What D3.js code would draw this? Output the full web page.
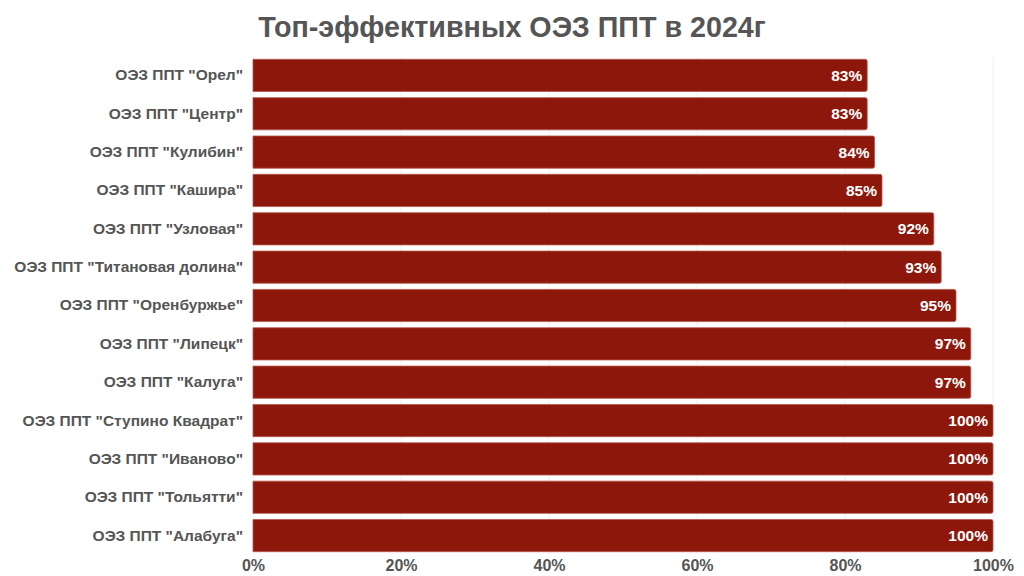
<!DOCTYPE html>
<html>
<head>
<meta charset="utf-8">
<script src="https://cdn.jsdelivr.net/npm/d3@7"></script>
<style>
  body { margin: 0; background: #fff; }
  svg { font-family: "Liberation Sans", Arial, sans-serif; }
</style>
</head>
<body>
<div id="chart"></div>
<script>
const zones = [
  'ОЭЗ ППТ "Орел"', 'ОЭЗ ППТ "Центр"', 'ОЭЗ ППТ "Кулибин"', 'ОЭЗ ППТ "Кашира"',
  'ОЭЗ ППТ "Узловая"', 'ОЭЗ ППТ "Титановая долина"', 'ОЭЗ ППТ "Оренбуржье"',
  'ОЭЗ ППТ "Липецк"', 'ОЭЗ ППТ "Калуга"', 'ОЭЗ ППТ "Ступино Квадрат"',
  'ОЭЗ ППТ "Иваново"', 'ОЭЗ ППТ "Тольятти"', 'ОЭЗ ППТ "Алабуга"'
];
const efficiency = [83, 83, 84, 85, 92, 93, 95, 97, 97, 100, 100, 100, 100];
const xTicks = [0, 20, 40, 60, 80, 100];

const width = 1024, height = 576;
const margin = { top: 57, right: 31, bottom: 22, left: 253 };
const data = zones.map((z, i) => ({ zone: z, value: efficiency[i] }));

const svg = d3.select('#chart').append('svg')
  .attr('width', width)
  .attr('height', height);

const x = d3.scaleLinear().domain([0, 100]).range([margin.left, width - margin.right]);
const y = d3.scaleBand().domain(zones).range([margin.top, height - margin.bottom]).paddingInner(0.16).paddingOuter(0.06);

// title
svg.append('text')
  .attr('x', width / 2)
  .attr('y', 37)
  .attr('text-anchor', 'middle')
  .attr('font-size', 28.7)
  .attr('font-weight', 'bold')
  .attr('fill', '#555')
  .text('Топ-эффективных ОЭЗ ППТ в 2024г');

// faint gridlines
svg.append('g')
  .selectAll('line')
  .data(xTicks)
  .join('line')
  .attr('x1', d => x(d)).attr('x2', d => x(d))
  .attr('y1', margin.top).attr('y2', height - margin.bottom)
  .attr('stroke', '#f0f0f0');

// bars
svg.append('g')
  .selectAll('path')
  .data(data)
  .join('path')
  .attr('d', d => {
    const x0 = x(0), x1 = x(d.value), y0 = y(d.zone), h = y.bandwidth(), r = 2;
    return `M${x0},${y0}H${x1 - r}Q${x1},${y0} ${x1},${y0 + r}V${y0 + h - r}Q${x1},${y0 + h} ${x1 - r},${y0 + h}H${x0}Z`;
  })
  .attr('fill', '#8e170b')
  .attr('stroke', '#b4574f')
  .attr('stroke-width', 0.8);

// value labels
svg.append('g')
  .selectAll('text')
  .data(data)
  .join('text')
  .attr('x', d => x(d.value) - 5)
  .attr('y', d => y(d.zone) + y.bandwidth() / 2)
  .attr('dy', '0.36em')
  .attr('text-anchor', 'end')
  .attr('font-size', 15.5)
  .attr('font-weight', 'bold')
  .attr('fill', '#fff')
  .text(d => d.value + '%');

// category axis
const yAxis = svg.append('g')
  .attr('transform', `translate(${margin.left},0)`)
  .call(d3.axisLeft(y).tickSize(0).tickPadding(10));
yAxis.select('.domain').remove();
yAxis.selectAll('text')
  .attr('font-size', 15.5)
  .attr('font-weight', 'bold')
  .attr('fill', '#555')
  .attr('font-family', '"Liberation Sans", Arial, sans-serif');

// value axis
const xAxis = svg.append('g')
  .attr('transform', `translate(0,${height - margin.bottom})`)
  .call(d3.axisBottom(x).tickValues(xTicks).tickFormat(d => d + '%').tickSize(0).tickPadding(6));
xAxis.select('.domain').remove();
xAxis.selectAll('text')
  .attr('font-size', 16)
  .attr('font-weight', 'bold')
  .attr('fill', '#555')
  .attr('font-family', '"Liberation Sans", Arial, sans-serif');
</script>
</body>
</html>
